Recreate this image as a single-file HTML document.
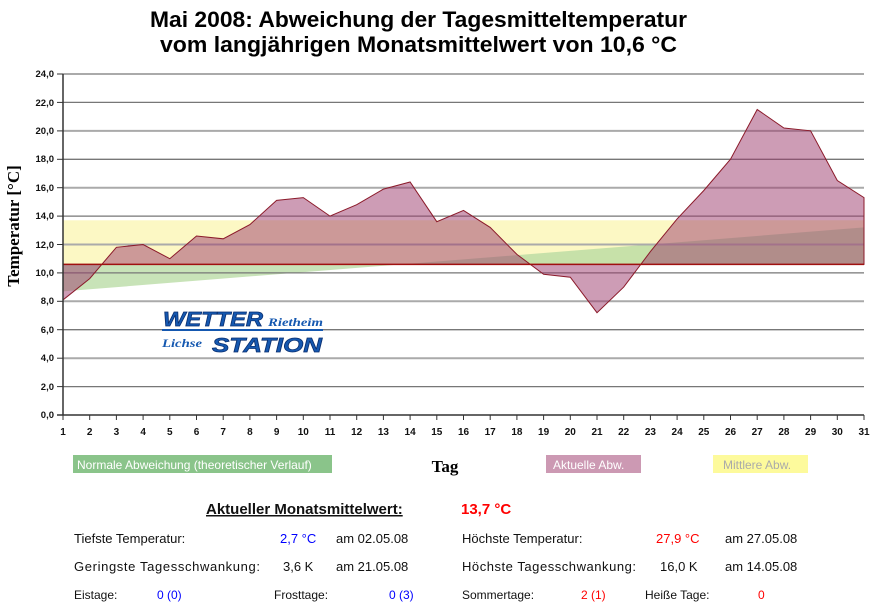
<!DOCTYPE html>
<html><head><meta charset="utf-8"><style>
body{margin:0;background:#fff;width:878px;height:606px;overflow:hidden;font-family:"Liberation Sans",sans-serif}
svg{position:absolute;left:0;top:0}
</style></head><body>
<svg width="878" height="606" xmlns="http://www.w3.org/2000/svg">
<text x="150" y="27" textLength="537" lengthAdjust="spacingAndGlyphs" font-family="Liberation Sans" font-weight="bold" font-size="22">Mai 2008: Abweichung der Tagesmitteltemperatur</text>
<text x="160" y="52" textLength="517" lengthAdjust="spacingAndGlyphs" font-family="Liberation Sans" font-weight="bold" font-size="22">vom langjährigen Monatsmittelwert von 10,6 °C</text>
<rect x="63" y="220.3" width="801" height="44.1" fill="#fcf8c4"/>
<polygon points="63,291.4 864,227.4 864,264.4 63,264.4" fill="#b5d9a0" opacity="0.75"/>
<g stroke-width="1.3">
<line x1="63" x2="864" y1="386.6" y2="386.6" stroke="#777"/>
<line x1="63" x2="864" y1="358.2" y2="358.2" stroke="#aaa" stroke-width="2"/>
<line x1="63" x2="864" y1="329.7" y2="329.7" stroke="#777"/>
<line x1="63" x2="864" y1="301.3" y2="301.3" stroke="#aaa" stroke-width="2"/>
<line x1="63" x2="864" y1="272.9" y2="272.9" stroke="#777"/>
<line x1="63" x2="864" y1="244.5" y2="244.5" stroke="#aaa" stroke-width="2"/>
<line x1="63" x2="864" y1="216.1" y2="216.1" stroke="#777"/>
<line x1="63" x2="864" y1="187.7" y2="187.7" stroke="#aaa" stroke-width="2"/>
<line x1="63" x2="864" y1="159.3" y2="159.3" stroke="#777"/>
<line x1="63" x2="864" y1="130.9" y2="130.9" stroke="#aaa" stroke-width="2"/>
<line x1="63" x2="864" y1="102.4" y2="102.4" stroke="#777"/>
<line x1="63" x2="864" y1="74" y2="74" stroke="#aaa" stroke-width="2"/>
</g>
<polygon points="63,264.4 63,299.9 89.7,278.6 116.4,247.3 143.1,244.5 169.8,258.7 196.5,236 223.2,238.8 249.9,224.6 276.6,200.4 303.3,197.6 330,216.1 356.7,204.7 383.4,189.1 410.1,182 436.8,221.7 463.5,210.4 490.2,227.4 516.9,254.4 543.6,274.3 570.3,277.2 597,312.7 623.7,287.1 650.4,251.6 677.1,218.9 703.8,190.5 730.5,159.2 757.2,109.5 783.9,128 810.6,130.8 837.3,180.5 864,197.6 864,264.4" fill="#9c3a6c" fill-opacity="0.5" stroke="#8b1a2a" stroke-width="1"/>
<line x1="63" x2="864" y1="264.4" y2="264.4" stroke="#a01010" stroke-width="1.5"/>
<line x1="63" y1="74" x2="63" y2="415" stroke="#333" stroke-width="1.5"/>
<line x1="57" y1="415" x2="864" y2="415" stroke="#333" stroke-width="1.5"/>
<g stroke="#333">
<line x1="57" x2="63" y1="386.6" y2="386.6"/><line x1="57" x2="63" y1="358.2" y2="358.2"/><line x1="57" x2="63" y1="329.7" y2="329.7"/><line x1="57" x2="63" y1="301.3" y2="301.3"/><line x1="57" x2="63" y1="272.9" y2="272.9"/><line x1="57" x2="63" y1="244.5" y2="244.5"/><line x1="57" x2="63" y1="216.1" y2="216.1"/><line x1="57" x2="63" y1="187.7" y2="187.7"/><line x1="57" x2="63" y1="159.3" y2="159.3"/><line x1="57" x2="63" y1="130.9" y2="130.9"/><line x1="57" x2="63" y1="102.4" y2="102.4"/><line x1="57" x2="63" y1="74" y2="74"/>
</g>
<g font-family="Liberation Sans" font-size="9.5" font-weight="bold" text-anchor="end" fill="#111">
<text x="54" y="418">0,0</text><text x="54" y="390">2,0</text><text x="54" y="361">4,0</text><text x="54" y="333">6,0</text><text x="54" y="304">8,0</text><text x="54" y="276">10,0</text><text x="54" y="248">12,0</text><text x="54" y="219">14,0</text><text x="54" y="191">16,0</text><text x="54" y="162">18,0</text><text x="54" y="134">20,0</text><text x="54" y="106">22,0</text><text x="54" y="77">24,0</text>
</g>
<g font-family="Liberation Sans" font-size="10" font-weight="bold" text-anchor="middle" fill="#111">
<text x="63" y="435">1</text><text x="89.7" y="435">2</text><text x="116.4" y="435">3</text><text x="143.1" y="435">4</text><text x="169.8" y="435">5</text><text x="196.5" y="435">6</text><text x="223.2" y="435">7</text><text x="249.9" y="435">8</text><text x="276.6" y="435">9</text><text x="303.3" y="435">10</text><text x="330" y="435">11</text><text x="356.7" y="435">12</text><text x="383.4" y="435">13</text><text x="410.1" y="435">14</text><text x="436.8" y="435">15</text><text x="463.5" y="435">16</text><text x="490.2" y="435">17</text><text x="516.9" y="435">18</text><text x="543.6" y="435">19</text><text x="570.3" y="435">20</text><text x="597" y="435">21</text><text x="623.7" y="435">22</text><text x="650.4" y="435">23</text><text x="677.1" y="435">24</text><text x="703.8" y="435">25</text><text x="730.5" y="435">26</text><text x="757.2" y="435">27</text><text x="783.9" y="435">28</text><text x="810.6" y="435">29</text><text x="837.3" y="435">30</text><text x="864" y="435">31</text>
</g>
<g stroke="#333">
<path d="M63 415v5M89.7 415v5M116.4 415v5M143.1 415v5M169.8 415v5M196.5 415v5M223.2 415v5M249.9 415v5M276.6 415v5M303.3 415v5M330 415v5M356.7 415v5M383.4 415v5M410.1 415v5M436.8 415v5M463.5 415v5M490.2 415v5M516.9 415v5M543.6 415v5M570.3 415v5M597 415v5M623.7 415v5M650.4 415v5M677.1 415v5M703.8 415v5M730.5 415v5M757.2 415v5M783.9 415v5M810.6 415v5M837.3 415v5M864 415v5"/>
</g>
<text transform="translate(19,226) rotate(-90)" text-anchor="middle" font-family="Liberation Serif" font-weight="bold" font-size="17">Temperatur [°C]</text>
<text x="163" y="326" textLength="100" lengthAdjust="spacingAndGlyphs" font-family="Liberation Sans" font-weight="bold" font-style="italic" font-size="20" fill="#1558b0" stroke="#0a2f70" stroke-width="0.7">WETTER</text>
<text x="268" y="326" textLength="55" lengthAdjust="spacingAndGlyphs" font-family="Liberation Serif" font-weight="bold" font-style="italic" font-size="12" fill="#1558b0">Rietheim</text>
<line x1="162" y1="330" x2="323" y2="330" stroke="#1558b0" stroke-width="2"/>
<text x="162" y="347" textLength="40" lengthAdjust="spacingAndGlyphs" font-family="Liberation Serif" font-weight="bold" font-style="italic" font-size="12" fill="#1558b0">Lichse</text>
<text x="212" y="352" textLength="110" lengthAdjust="spacingAndGlyphs" font-family="Liberation Sans" font-weight="bold" font-style="italic" font-size="20" fill="#1558b0" stroke="#0a2f70" stroke-width="0.7">STATION</text>
<rect x="73" y="455" width="259" height="18" fill="#8ac48a"/>
<text x="77" y="469" font-family="Liberation Sans" font-size="12" fill="#fff">Normale Abweichung (theoretischer Verlauf)</text>
<text x="445" y="472" text-anchor="middle" font-family="Liberation Serif" font-weight="bold" font-size="17">Tag</text>
<rect x="546" y="455" width="95" height="18" fill="#cc99b3"/>
<text x="553" y="469" font-family="Liberation Sans" font-size="12" fill="#fff">Aktuelle Abw.</text>
<rect x="713" y="455" width="95" height="18" fill="#fdfa9c"/>
<text x="723" y="469" font-family="Liberation Sans" font-size="12" fill="#aaa">Mittlere Abw.</text>
<g font-family="Liberation Sans" font-size="13" fill="#111">
<text x="206" y="514" font-size="15" font-weight="bold" text-decoration="underline">Aktueller Monatsmittelwert:</text>
<text x="461" y="514" font-size="15" font-weight="bold" fill="#f00">13,7 °C</text>
<text x="74" y="543">Tiefste Temperatur:</text>
<text x="280" y="543" fill="#00f">2,7 °C</text>
<text x="336" y="543">am 02.05.08</text>
<text x="462" y="543">Höchste Temperatur:</text>
<text x="656" y="543" fill="#f00">27,9 °C</text>
<text x="725" y="543">am 27.05.08</text>
<text x="74" y="571" textLength="186">Geringste Tagesschwankung:</text>
<text x="283" y="571">3,6 K</text>
<text x="336" y="571">am 21.05.08</text>
<text x="462" y="571" textLength="174">Höchste Tagesschwankung:</text>
<text x="660" y="571">16,0 K</text>
<text x="725" y="571">am 14.05.08</text>
<text x="74" y="599" font-size="12">Eistage:</text>
<text x="157" y="599" font-size="12" fill="#00f">0 (0)</text>
<text x="274" y="599" font-size="12">Frosttage:</text>
<text x="389" y="599" font-size="12" fill="#00f">0 (3)</text>
<text x="462" y="599" font-size="12">Sommertage:</text>
<text x="581" y="599" font-size="12" fill="#f00">2 (1)</text>
<text x="645" y="599" font-size="12">Heiße Tage:</text>
<text x="758" y="599" font-size="12" fill="#f00">0</text>
</g>
</svg>
</body></html>
